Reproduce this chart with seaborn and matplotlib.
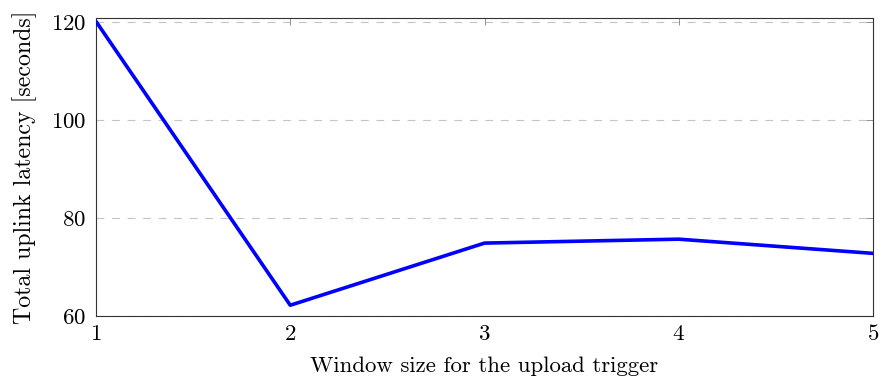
import matplotlib
matplotlib.use("Agg")
import matplotlib.pyplot as plt
import seaborn as sns
import pandas as pd

window_size = [1, 2, 3, 4, 5]
latency = [120.2, 62.2, 74.9, 75.7, 72.8]
x_ticks = [1, 2, 3, 4, 5]
y_ticks = [60, 80, 100, 120]

sns.set_theme(style="white")
plt.rcParams["font.family"] = ["cmr10", "DejaVu Serif"]
plt.rcParams["axes.formatter.use_mathtext"] = True
plt.rcParams["mathtext.fontset"] = "cm"
plt.rcParams["text.color"] = "black"
plt.rcParams["axes.labelcolor"] = "black"
plt.rcParams["xtick.labelcolor"] = "black"
plt.rcParams["ytick.labelcolor"] = "black"

df = pd.DataFrame({"w": window_size, "lat": latency})

fig = plt.figure(figsize=(8.81, 3.79), dpi=100)
ax = fig.add_axes([96/881, 1-316/379, (873-96)/881, (316-18)/379])

for yv in y_ticks:
    ax.axhline(yv, color="#c4c4c4", lw=0.8, ls=(0, (7, 7)), zorder=0)

sns.lineplot(data=df, x="w", y="lat", ax=ax, color="#0000ff", lw=2.6, zorder=3)

ax.set_xlim(1, 5)
ax.set_ylim(60, 120.9)
ax.set_xticks(x_ticks)
ax.set_yticks(y_ticks)
ax.tick_params(direction="in", length=5, width=0.6, color="#808080",
               top=True, right=True, labelsize=16.5, labelcolor="black")
ax.tick_params(axis="x", pad=6)
ax.tick_params(axis="y", pad=7)
for s in ax.spines.values():
    s.set_color("#333333")
    s.set_linewidth(0.8)
    s.set_visible(True)
ax.set_xlabel("Window size for the upload trigger", fontsize=16.4, labelpad=9,
              color="black")
ax.set_ylabel("Total uplink latency [seconds]", fontsize=17.2, labelpad=10,
              color="black")

fig.savefig("out.png", dpi=100)
